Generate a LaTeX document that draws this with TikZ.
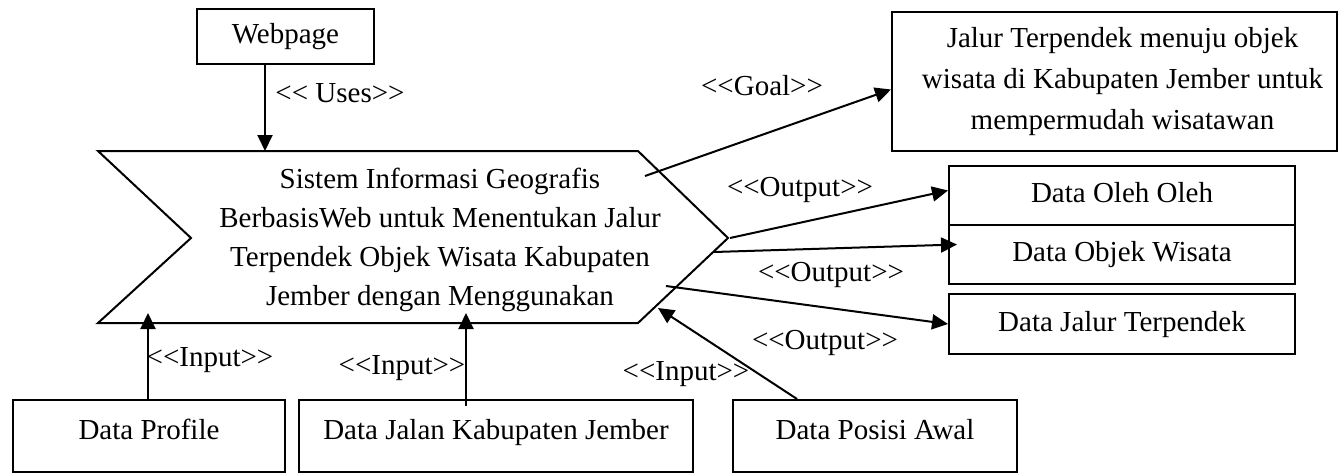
\documentclass[tikz,border=0pt]{standalone}
\usepackage{fontspec}
\setmainfont{Liberation Serif}
\usetikzlibrary{arrows.meta,calc}
% guillemet-free double angle brackets
\newcommand\dopen{<\kern0pt<}
\newcommand\dclose{>\kern0pt>}

\begin{document}
\begin{tikzpicture}[x=1pt,y=-1pt,
  every node/.style={font=\fontsize{29pt}{39pt}\selectfont},
  line/.style={line width=2pt},
  arr/.style={line width=2pt,-{Triangle[length=16pt,width=15pt]}},
  plainbox/.style={draw,line width=2pt,fill=white,inner sep=0pt,align=center},
  box/.style={plainbox,text height=20pt,text depth=6pt},
  lowbox/.style={box,text depth=14pt},
  lbl/.style={inner sep=0pt}]
\useasboundingbox (0,0) rectangle (1343,474);
\fill[white] (0,0) rectangle (1343,474);

% central system shape (chevron)
\draw[line,fill=white,line join=miter]
  (98,151) -- (638,151) -- (728,238) -- (638,323) -- (98,323) -- (191,238) -- cycle;
\node[align=center] (sys) at (440,240)
  {Sistem Informasi Geografis\\BerbasisWeb untuk Menentukan Jalur\\Terpendek Objek Wisata Kabupaten\\Jember dengan Menggunakan};

% attachment points on the system shape
\coordinate (uE) at (265,151);
\coordinate (gS) at (645,176);
\coordinate (o1) at (730,238);
\coordinate (o2) at (714,252);
\coordinate (o3) at (666,286);
\coordinate (i1) at (148,313);
\coordinate (i2) at (466,313);
\coordinate (i3) at (658,308);

% boxes
\node[box,minimum width=177pt,minimum height=55pt] (web) at (285.5,36.5) {Webpage};
\node[plainbox,minimum width=445pt,minimum height=139pt,
  font=\fontsize{29pt}{41pt}\selectfont] (goal) at (1114.5,81.5)
  {\hspace*{16pt}Jalur Terpendek menuju objek\\\hspace*{16pt}wisata di Kabupaten Jember untuk\\\hspace*{16pt}mempermudah wisatawan};
\node[box,minimum width=346pt,minimum height=59pt] (oleh) at (1122,195.5) {Data Oleh Oleh};
\node[box,minimum width=346pt,minimum height=59pt] (objek) at (1122,254.5) {Data Objek Wisata};
\node[box,minimum width=346pt,minimum height=60pt] (jalur) at (1122,324) {Data Jalur Terpendek};
\node[lowbox,minimum width=272pt,minimum height=72pt] (profile) at (149,436) {Data Profile};
\node[lowbox,minimum width=394pt,minimum height=72pt] (jalan) at (496,436) {Data Jalan Kabupaten Jember};
\node[lowbox,minimum width=284pt,minimum height=72pt] (posisi) at (875,436) {Data Posisi Awal};

% connectors
\draw[arr] (web.south -| uE) -- (uE);
\draw[arr] (gS) -- ($(goal.west)+(0,8)$);
\draw[arr] (o1) -- ($(oleh.west)+(0,-5)$);
\draw[arr] (o2) -- ($(objek.west)+(9,-10)$);
\draw[arr] (o3) -- (jalur.west);
\draw[arr] (profile.north -| i1) -- (i1);
\draw[arr] ($(jalan.north -| i2)+(0,7)$) -- (i2);
\draw[arr] ($(posisi.north)+(-78,0)$) -- (i3);

% stereotype labels
\node[lbl] (lUses) at (340,93) {\dopen{} Uses\dclose};
\node[lbl] (lGoal) at (762,86) {\dopen Goal\dclose};
\node[lbl] (lOut1) at (800,190) {\dopen Output\dclose};
\node[lbl] (lOut2) at (831,275) {\dopen Output\dclose};
\node[lbl] (lOut3) at (825,343) {\dopen Output\dclose};
\node[lbl] (lIn1) at (210,360) {\dopen Input\dclose};
\node[lbl] (lIn2) at (402,368) {\dopen Input\dclose};
\node[lbl] (lIn3) at (686,374) {\dopen Input\dclose};
\end{tikzpicture}
\end{document}
